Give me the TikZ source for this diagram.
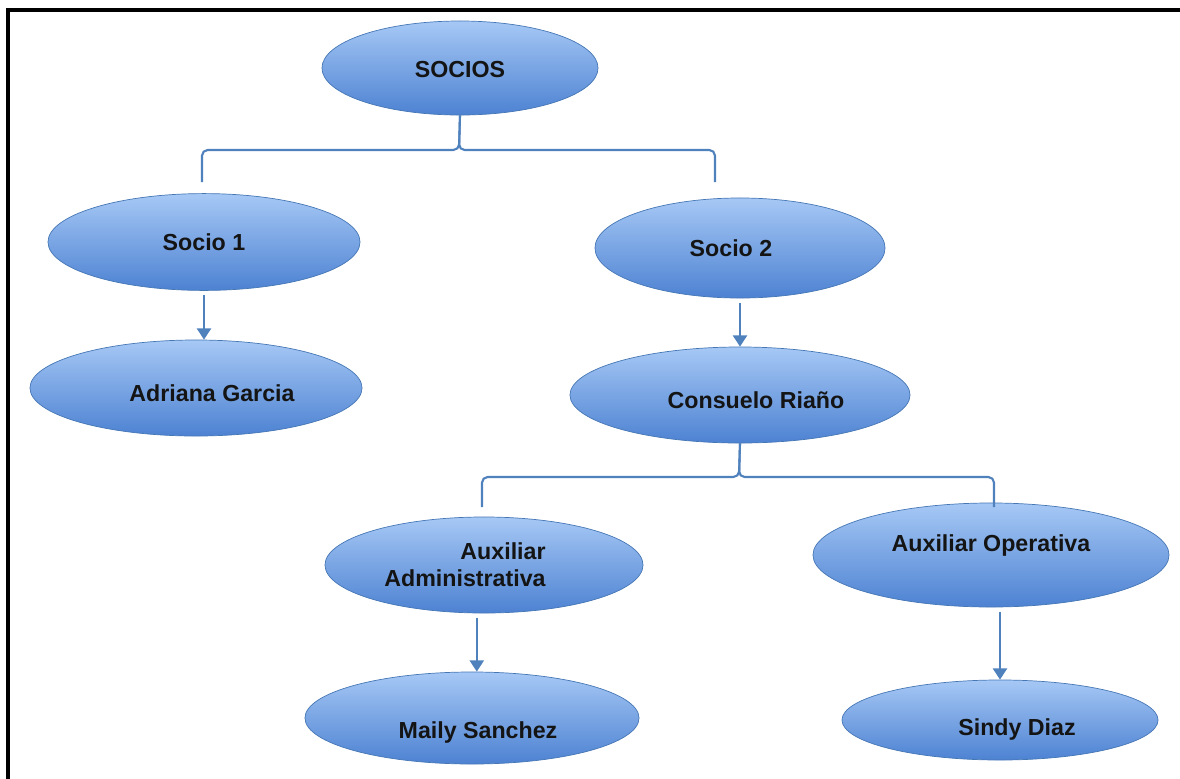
\documentclass[tikz,border=0pt]{standalone}
\usepackage{fontspec}
\setmainfont{Liberation Sans}
\usetikzlibrary{shapes.geometric, arrows.meta, positioning}

\definecolor{bubbletop}{HTML}{A6C8F5}
\definecolor{bubblebot}{HTML}{4D82D2}
\definecolor{bubbleline}{HTML}{4677B5}
\definecolor{linkblue}{HTML}{4F81BD}

\begin{document}
\begin{tikzpicture}[x=0.025cm, y=-0.025cm,
  bubble/.style={ellipse, draw=bubbleline, line width=0.5pt,
    top color=bubbletop, bottom color=bubblebot, inner sep=0pt,
    text=black!92, font=\bfseries\fontsize{16.5}{19}\selectfont},
  drop/.style={text height=#1, text depth=3.5pt},
  link/.style={draw=linkblue, line width=1.5pt, rounded corners=4pt},
  arrow/.style={draw=linkblue, line width=1.5pt,
    -{Triangle[length=8pt,width=10pt]}, shorten <=3pt}
]
\useasboundingbox (0,0) rectangle (1180,778);
\draw[line width=2.2pt] (8,10) rectangle (1220,820);

%level 1
\node[bubble, drop=17.5pt, minimum width=6.9cm, minimum height=2.35cm] (socios) at (460,68) {SOCIOS};

%level 2
\node[bubble, minimum width=7.8cm, minimum height=2.42cm] (socio1) at (204,242) {Socio 1};
\node[bubble, minimum width=7.25cm, minimum height=2.5cm] (socio2) at (740,248) {Socio 2\hspace*{0.45cm}};

%level 3
\node[bubble, drop=22pt, minimum width=8.3cm, minimum height=2.4cm] (adriana) at (196,388) {\hspace*{0.8cm}Adriana Garcia};
\node[bubble, drop=23pt, minimum width=8.5cm, minimum height=2.4cm] (consuelo) at (740,395) {\hspace*{0.8cm}Consuelo Riaño};

%level 4
\node[bubble, minimum width=7.95cm, minimum height=2.4cm, align=right] (auxadm) at (484,565)
  {Auxiliar\hspace*{0.95cm}\\Administrativa\hspace*{0.95cm}};
\node[bubble, text height=12pt, text depth=17.5pt, minimum width=8.9cm, minimum height=2.6cm] (auxop) at (991,555) {Auxiliar Operativa};

%level 5
\node[bubble, drop=33pt, minimum width=8.35cm, minimum height=2.3cm] (maily) at (472,718) {\hspace*{0.3cm}Maily Sanchez};
\node[bubble, drop=26pt, minimum width=7.9cm, minimum height=2.0cm] (sindy) at (1000,720) {\hspace*{0.85cm}Sindy Diaz};

%brace under socios
\coordinate (bar1) at (459,150);
\coordinate (s1end) at (202,182);
\coordinate (s2end) at (715,182);
\draw[link] (socios.south) -- (bar1) -| (s1end);
\draw[link] (socios.south) -- (bar1) -| (s2end);

%brace under consuelo
\coordinate (bar2) at (739,477);
\coordinate (a1end) at (482,507);
\coordinate (a2end) at (994,507);
\draw[link] (consuelo.south) -- (bar2) -| (a1end);
\draw[link] (consuelo.south) -- (bar2) -| (a2end);

%arrows
\draw[arrow] (socio1.south) -- (socio1.south |- adriana.north);
\draw[arrow] (socio2.south) -- (consuelo.north);
\draw[arrow] ([xshift=-0.18cm]auxadm.south) -- ([xshift=-0.18cm]auxadm.south |- maily.north);
\draw[arrow] (sindy.north |- auxop.south) -- (sindy.north);
\end{tikzpicture}
\end{document}
